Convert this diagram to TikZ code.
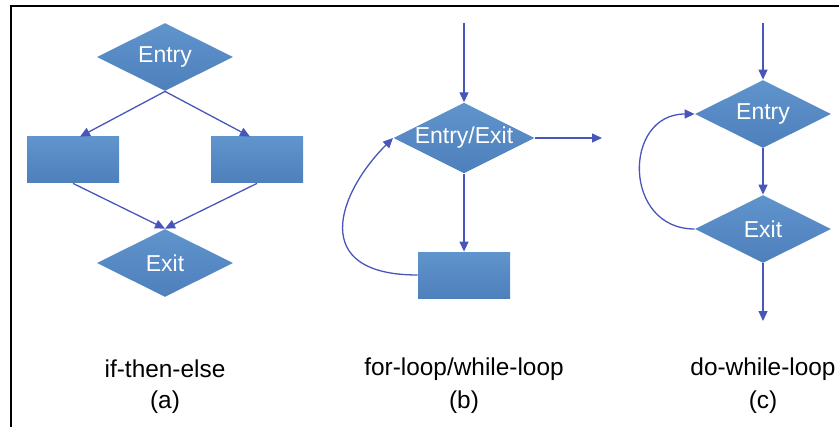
\documentclass[tikz,border=0pt]{standalone}
\usepackage{fontspec}
\setmainfont{Liberation Sans}
\usetikzlibrary{shapes.geometric,arrows.meta,calc}

\definecolor{boxtop}{RGB}{96,148,204}
\definecolor{boxbot}{RGB}{78,128,188}
\definecolor{flowline}{RGB}{72,86,186}

\begin{document}
\begin{tikzpicture}[x=0.5pt, y=-0.5pt,
    block/.style={rectangle, top color=boxtop, bottom color=boxbot, draw=none,
                  minimum width=46pt, minimum height=23pt, inner sep=0pt},
    decision/.style={diamond, aspect=2, top color=boxtop, bottom color=boxbot, draw=none,
                  minimum width=68pt, minimum height=34pt, inner sep=0pt,
                  text=white, font=\fontsize{11.5}{14}\selectfont},
    flow/.style={draw=flowline, line width=0.65pt,
                 -{Triangle[length=5pt, width=4.5pt]}, flowline},
    caption/.style={font=\fontsize{12.2}{15}\selectfont}]

  \useasboundingbox (0,0) rectangle (839,427);
  \draw[line width=1pt] (11,427) -- (11,6) -- (839,6);

  % (a) if-then-else
  \node[decision] (entryA) at (165,57)  {Entry};
  \node[block]    (thenA)  at (73,160)  {};
  \node[block]    (elseA)  at (257,160) {};
  \node[decision] (exitA)  at (165,263) {Exit};

  \path
    (entryA.south) edge[flow] ($(thenA.north)+(7,0)$)
    (entryA.south) edge[flow] ($(elseA.north)+(-7,0)$)
    (thenA.south)  edge[flow] (exitA.north)
    (elseA.south)  edge[flow] (exitA.north);

  \node[caption] (titleA) at (165,369) {if-then-else};
  \node[caption] (tagA)   at (165,402) {(a)};

  % (b) for-loop/while-loop
  \coordinate (inB)  at (464,23);
  \node[decision] (loopB) at (464,138) {Entry/Exit};
  \coordinate (outB) at (602,138);
  \node[block]    (bodyB) at (464,275) {};

  \path
    (inB)         edge[flow] (loopB.north)
    (loopB.east)  edge[flow] (outB)
    (loopB.south) edge[flow] (bodyB.north);
  \draw[flow] (bodyB.west) .. controls +(-110,0) and +(-55,55) .. (loopB.west);

  \node[caption] (titleB) at (464,369) {for-loop/while-loop};
  \node[caption] (tagB)   at (464,402) {(b)};

  % (c) do-while-loop
  \coordinate (inC)  at (763,23);
  \node[decision] (entryC) at (763,114) {Entry};
  \node[decision] (exitC)  at (763,229) {Exit};
  \coordinate (outC) at (763,321);

  \path
    (inC)          edge[flow] (entryC.north)
    (entryC.south) edge[flow] (exitC.north)
    (exitC.south)  edge[flow] (outC);
  \draw[flow] (exitC.west) .. controls +(-72,0) and +(-72,0) .. (entryC.west);

  \node[caption] (titleC) at (763,369) {do-while-loop};
  \node[caption] (tagC)   at (763,402) {(c)};
\end{tikzpicture}
\end{document}
